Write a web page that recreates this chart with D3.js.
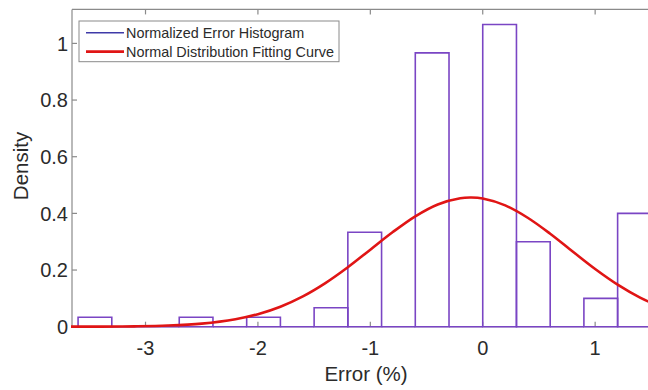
<!DOCTYPE html>
<html>
<head>
<meta charset="utf-8">
<script src="https://cdn.jsdelivr.net/npm/d3@7"></script>
<style>
  html, body { margin: 0; padding: 0; background: #fff; }
  svg { display: block; }
  text { font-family: "Liberation Sans", Arial, sans-serif; }
</style>
</head>
<body>
<svg id="chart" width="648" height="390"></svg>
<script>
// ---- data ----
const binLefts = [-3.6, -3.3, -3.0, -2.7, -2.4, -2.1, -1.8, -1.5, -1.2, -0.9, -0.6, -0.3, 0.0, 0.3, 0.6, 0.9, 1.2];
const binWidth = 0.3;
const densities = [0.0333, 0, 0, 0.0333, 0, 0.0333, 0, 0.0667, 0.3333, 0, 0.9667, 0, 1.0667, 0.3, 0, 0.1, 0.4];

const curveX = [-3.7, -3.4, -3.1, -2.8, -2.5, -2.2, -2.0, -1.8, -1.6, -1.4, -1.2, -1.0, -0.8, -0.6, -0.4, -0.2, -0.1, 0.0, 0.2, 0.4, 0.6, 0.8, 1.0, 1.2, 1.4, 1.6, 1.8];
const curveY = [0.0001, 0.0004, 0.0013, 0.0040, 0.0109, 0.0263, 0.0442, 0.0706, 0.1070, 0.1539, 0.2098, 0.2719, 0.3340, 0.3897, 0.4316, 0.4535, 0.4559, 0.4523, 0.4281, 0.3846, 0.3281, 0.2655, 0.2038, 0.1486, 0.1029, 0.0675, 0.0421];

const xTicks = [-3, -2, -1, 0, 1];
const yTicks = [0, 0.2, 0.4, 0.6, 0.8, 1];
const legendLabels = ["Normalized Error Histogram", "Normal Distribution Fitting Curve"];
const xLabel = "Error (%)";
const yLabel = "Density";

// ---- layout ----
const svg = d3.select("#chart");
const L = 72, R = 660, T = 9.4, B = 326.7;
const x = d3.scaleLinear().domain([-3.654, 1.577]).range([L, R]);
const y = d3.scaleLinear().domain([0, 1.12]).range([B, T]);

const axisColor = "#8a8a8a";
const textColor = "#2b2b2b";
const barColor = "#7a45c4";
const curveColor = "#e01515";

svg.append("defs").append("clipPath").attr("id", "plotclip")
  .append("rect").attr("x", L - 1).attr("y", T - 1).attr("width", R - L + 2).attr("height", B - T + 3);

// box (top, left, bottom)
svg.append("line").attr("x1", L).attr("x2", R).attr("y1", T).attr("y2", T).attr("stroke", axisColor).attr("stroke-width", 1.2);
svg.append("line").attr("x1", L).attr("x2", L).attr("y1", T).attr("y2", B).attr("stroke", axisColor).attr("stroke-width", 1.2);
svg.append("line").attr("x1", L).attr("x2", R).attr("y1", B).attr("y2", B).attr("stroke", axisColor).attr("stroke-width", 1.2);

// ticks (inward)
const tickG = svg.append("g");
xTicks.forEach(t => {
  tickG.append("line").attr("x1", x(t)).attr("x2", x(t)).attr("y1", B).attr("y2", B - 5).attr("stroke", axisColor).attr("stroke-width", 1.2);
  tickG.append("line").attr("x1", x(t)).attr("x2", x(t)).attr("y1", T).attr("y2", T + 5).attr("stroke", axisColor).attr("stroke-width", 1.2);
  tickG.append("text").attr("x", x(t)).attr("y", 355).attr("text-anchor", "middle")
    .attr("font-size", 20).attr("fill", textColor).text(String(t));
});
yTicks.forEach(t => {
  tickG.append("line").attr("x1", L).attr("x2", L + 5).attr("y1", y(t)).attr("y2", y(t)).attr("stroke", axisColor).attr("stroke-width", 1.2);
  tickG.append("text").attr("x", 68).attr("y", y(t)).attr("dy", "0.36em").attr("text-anchor", "end")
    .attr("font-size", 20).attr("fill", textColor).text(String(t));
});

// histogram
const plot = svg.append("g").attr("clip-path", "url(#plotclip)");
plot.selectAll("path.bin").data(binLefts.map((b, i) => ({ x0: b, x1: b + binWidth, v: densities[i] })))
  .enter().append("path").attr("class", "bin")
  .attr("d", d => `M${x(d.x0)},${y(0)}L${x(d.x0)},${y(d.v)}L${x(d.x1)},${y(d.v)}L${x(d.x1)},${y(0)}Z`)
  .attr("fill", "none").attr("stroke", barColor).attr("stroke-width", 1.6);

// fitting curve
const line = d3.line().x(d => x(d[0])).y(d => y(d[1])).curve(d3.curveCatmullRom.alpha(0.5));
plot.append("path").datum(curveX.map((v, i) => [v, curveY[i]]))
  .attr("d", line).attr("fill", "none").attr("stroke", curveColor).attr("stroke-width", 2.6);

// axis labels
svg.append("text").attr("x", 366).attr("y", 381).attr("text-anchor", "middle")
  .attr("font-size", 20.5).attr("fill", textColor).text(xLabel);
svg.append("text").attr("transform", "translate(27.5,166) rotate(-90)").attr("text-anchor", "middle")
  .attr("font-size", 20.5).attr("fill", textColor).text(yLabel);

// legend
const lg = svg.append("g");
lg.append("rect").attr("x", 79).attr("y", 21).attr("width", 260).attr("height", 40.7)
  .attr("fill", "#fff").attr("stroke", axisColor).attr("stroke-width", 1);
const legendColors = ["#3f3aa8", curveColor];
const legendWidths = [1.4, 2.8];
[32.7, 51.7].forEach((ly, i) => {
  lg.append("line").attr("x1", 86).attr("x2", 124).attr("y1", ly).attr("y2", ly)
    .attr("stroke", legendColors[i]).attr("stroke-width", legendWidths[i]);
  lg.append("text").attr("x", 126).attr("y", ly).attr("dy", "0.36em")
    .attr("font-size", 14.4).attr("fill", textColor).text(legendLabels[i]);
});
</script>
</body>
</html>
